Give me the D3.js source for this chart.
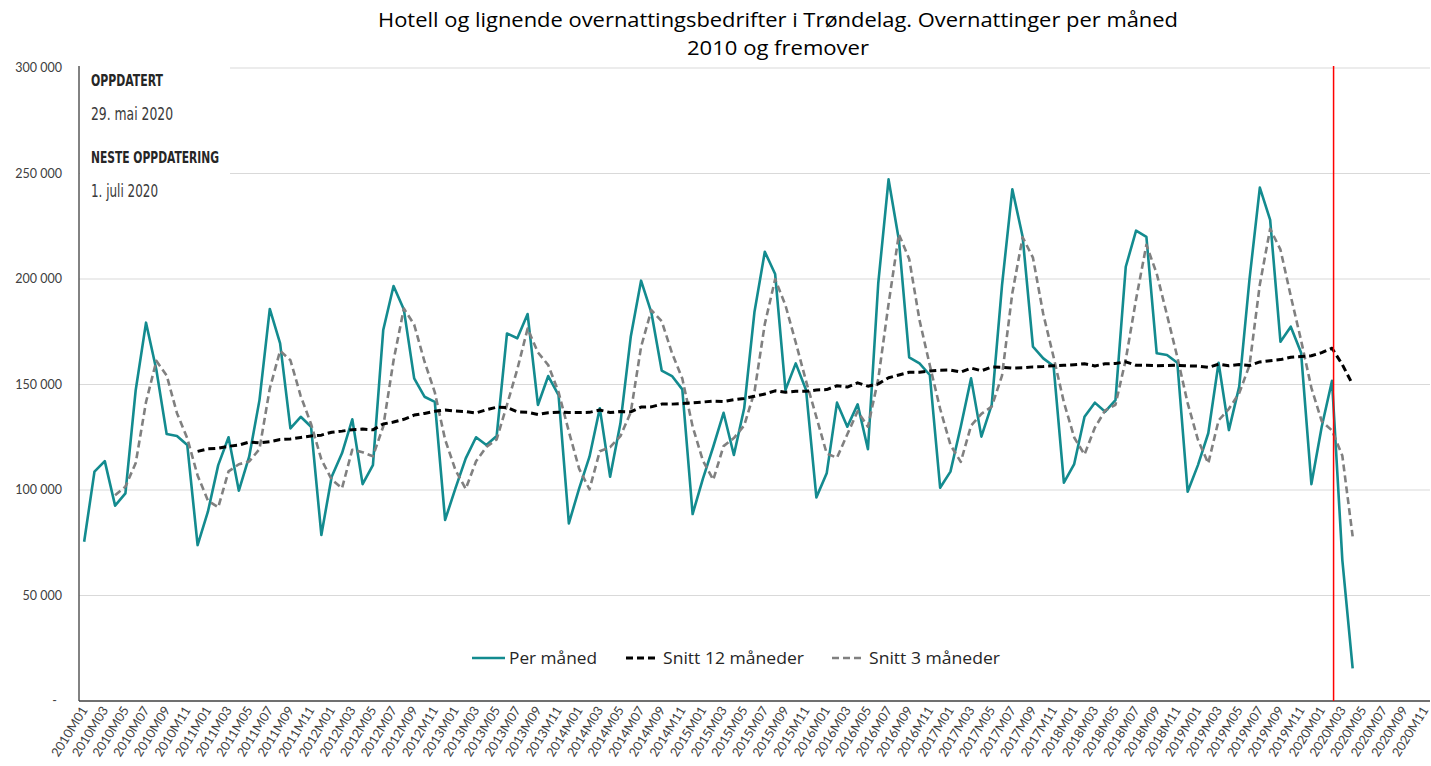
<!DOCTYPE html>
<html>
<head>
<meta charset="utf-8">
<script src="https://cdn.jsdelivr.net/npm/d3@7/dist/d3.min.js"></script>
<style>
  html, body { margin: 0; padding: 0; background: #fff; }
  svg { display: block; }
  .ui { font-family: Lato, "Open Sans", sans-serif; }
  .txt { font-family: "Open Sans", Lato, sans-serif; }
  .cond { font-family: "Liberation Sans Narrow", "DejaVu Sans Condensed", "Liberation Sans", sans-serif; }
</style>
</head>
<body>
<svg id="chart" width="1431" height="766"></svg>
<script>
// Overnattinger per måned, hotell og lignende i Trøndelag (2010M01 – 2020M04)
const perMaaned = [
  75500,108700,113700,92600,98400,147400,179300,157000,126500,125600,121300,73900,
  89700,111800,125000,99700,115800,142600,185800,169500,129200,134700,130000,78700,
  106300,117400,133500,102800,111800,175800,196700,185500,152900,144200,141800,85800,
  100800,115000,125000,121300,125600,174200,171900,183400,140300,154000,145000,84200,
  100800,115800,138700,106300,131600,172600,199200,184100,156600,154000,147700,88600,
  105400,120500,136600,116600,138700,184500,212900,202400,147400,160000,147400,96500,
  107900,141400,130000,140600,119300,198000,247200,218500,162900,160000,154500,101100,
  108700,130000,152900,125300,140300,197000,242500,220000,167900,162400,158800,103500,
  112300,134700,141400,137100,142600,205800,222900,220000,164800,164000,160300,99200,
  111800,126900,160300,128400,149000,200000,243300,228000,170300,177400,165000,102800,
  130000,151800,66800,15500
];
const perMaanedStart = "2010M01";

// Snitt 12 måneder, fra 2010M12
const snitt12 = [
  118300,
  119500,119800,120700,121300,122750,122350,122900,123900,124200,124900,125600,126000,
  127400,127900,128600,128900,128500,131300,132200,133500,135500,136300,137300,137900,
  137400,137200,136500,138050,139200,139100,137000,136800,135800,136600,136900,136700,
  136700,136800,137900,136700,137200,137050,139300,139400,140700,140700,141000,141300,
  141700,142100,141900,142800,143400,144400,145500,147000,146300,146800,146750,147400,
  147600,149400,148800,150800,149200,150300,153200,154500,155800,155800,156400,156800,
  156850,155900,157800,156500,158300,158200,157800,157900,158350,158550,158900,159100,
  159400,159800,158800,159800,160000,160750,159100,159100,158900,159000,159100,158800,
  158700,158100,159600,158900,159450,159000,160700,161300,161800,162900,163300,163600,
  165100,167200,159400,150000
];
const snitt12Start = "2010M12";

// Snitt 3 måneder, fra 2010M04
const snitt3 = [
  97500,101600,112800,141700,161200,154300,136400,124500,106900,
  95000,91800,108800,112200,113500,119400,148100,166000,161500,144500,131300,114500,
  105000,100800,119100,117900,116000,130100,161400,186000,178400,160900,146300,123900,
  109500,100500,113600,120400,124000,140400,157200,176500,165200,159200,146400,127700,
  110000,100300,118400,120300,125500,136800,167800,185300,180000,164900,152800,130100,
  113900,104800,120800,124600,130600,146600,178700,199900,187600,169900,151600,134600,
  117300,115300,126400,137300,130000,152600,188200,221200,209500,180500,159100,138500,
  121400,113300,130500,136100,139500,154200,193300,219800,210100,183400,163000,141600,
  124900,116800,129500,137700,140400,161800,190400,216200,202600,182900,163000,141200,
  123800,112600,133000,138500,145900,159100,197400,223800,213900,191900,170900,148400,
  132600,128200,116200,78000
];
const snitt3Start = "2010M04";

// Kategoriakse: 2010M01 – 2020M11
const years = d3.range(2010, 2021);
const monthCodes = ["01","02","03","04","05","06","07","08","09","10","11","12"];
const categories = [];
years.forEach(y => monthCodes.forEach(m => categories.push(`${y}M${m}`)));
categories.pop(); // aksen slutter på 2020M11

const yTicks = [0, 50000, 100000, 150000, 200000, 250000, 300000];
const markerMonth = "2020M02";

const titleLines = [
  { text: "Hotell og lignende overnattingsbedrifter i Trøndelag. Overnattinger per måned", width: 800 },
  { text: "2010 og fremover", width: 182 }
];
const infoLines = [
  { text: "OPPDATERT", bold: true, width: 72 },
  { text: "29. mai 2020", bold: false, width: 82 },
  { text: "NESTE OPPDATERING", bold: true, width: 128 },
  { text: "1. juli 2020", bold: false, width: 67 }
];

const series = [
  { name: "Per måned", values: perMaaned, start: perMaanedStart, color: "#138b8f", width: 2.6, dash: null, labelWidth: 88 },
  { name: "Snitt 12 måneder", values: snitt12, start: snitt12Start, color: "#000000", width: 3, dash: "7,4", labelWidth: 141 },
  { name: "Snitt 3 måneder", values: snitt3, start: snitt3Start, color: "#808080", width: 2.6, dash: "7,4", labelWidth: 131 }
];

// ---- layout ----
const svg = d3.select("#chart");
const plot = { left: 79, right: 1430, top: 68, bottom: 701 };

const x = d3.scaleBand().domain(categories).range([plot.left, plot.right]).padding(0);
const xc = c => x(c) + x.bandwidth() / 2;
const y = d3.scaleLinear().domain([0, 300000]).range([plot.bottom, plot.top]);

// gridlines
svg.append("g")
  .selectAll("line")
  .data(yTicks.filter(d => d > 0))
  .join("line")
  .attr("x1", plot.left).attr("x2", plot.right)
  .attr("y1", d => y(d)).attr("y2", d => y(d))
  .attr("stroke", "#d9d9d9").attr("stroke-width", 1.2);

// y tick labels
const fmt = d => d === 0 ? "-" : d3.format(",")(d).replace(/,/g, " ");
svg.append("g").attr("class", "ui")
  .selectAll("text")
  .data(yTicks)
  .join("text")
  .attr("x", d => d === 0 ? 57 : 62)
  .attr("y", d => y(d) + 4)
  .attr("text-anchor", "end")
  .attr("font-size", 12.5)
  .attr("fill", "#404040")
  .text(fmt);

// info box (covers gridlines)
svg.append("rect")
  .attr("x", plot.left + 1).attr("y", 60)
  .attr("width", 150).attr("height", 140)
  .attr("fill", "#fff");

const infoY = [86, 120, 163, 197];
svg.append("g").attr("class", "cond")
  .selectAll("text")
  .data(infoLines)
  .join("text")
  .attr("x", 91)
  .attr("y", (d, i) => infoY[i])
  .attr("font-size", d => d.bold ? 16 : 17)
  .attr("font-weight", d => d.bold ? 700 : 400)
  .attr("fill", d => d.bold ? "#262626" : "#3a3a3a")
  .attr("textLength", d => d.width)
  .attr("lengthAdjust", "spacingAndGlyphs")
  .text(d => d.text);

// axes lines
svg.append("line")
  .attr("x1", plot.left).attr("x2", plot.left)
  .attr("y1", plot.top - 2).attr("y2", plot.bottom)
  .attr("stroke", "#595959").attr("stroke-width", 1.5);
svg.append("line")
  .attr("x1", plot.left).attr("x2", plot.right)
  .attr("y1", plot.bottom).attr("y2", plot.bottom)
  .attr("stroke", "#404040").attr("stroke-width", 1.5);

// x tick labels (every second month)
svg.append("g").attr("class", "ui")
  .selectAll("text")
  .data(categories.filter((c, i) => i % 2 === 0))
  .join("text")
  .attr("transform", c => `translate(${xc(c) + 4},${plot.bottom + 9}) rotate(-58)`)
  .attr("text-anchor", "end")
  .attr("font-size", 12.8)
  .attr("fill", "#404040")
  .text(c => c);

// series lines
const line = d3.line()
  .x(d => xc(d.c))
  .y(d => y(d.v));

series.forEach(s => {
  const i0 = categories.indexOf(s.start);
  s.pts = s.values.map((v, i) => ({ c: categories[i0 + i], v }));
});

// draw order: per måned, then 3-month, then 12-month on top
[series[0], series[2], series[1]].forEach(s => {
  svg.append("path")
    .datum(s.pts)
    .attr("d", line)
    .attr("fill", "none")
    .attr("stroke", s.color)
    .attr("stroke-width", s.width)
    .attr("stroke-linejoin", "round")
    .attr("stroke-dasharray", s.dash);
});

// red marker line
const mx = xc(markerMonth) + x.bandwidth() * 0.15;
svg.append("line")
  .attr("x1", mx).attr("x2", mx)
  .attr("y1", plot.top - 2).attr("y2", plot.bottom)
  .attr("stroke", "#ff0000").attr("stroke-width", 1.5);

// legend
const legendItems = [
  { s: series[0], x: 472 },
  { s: series[1], x: 626 },
  { s: series[2], x: 832 }
];
const lg = svg.append("g").attr("class", "txt");
legendItems.forEach(it => {
  lg.append("line")
    .attr("x1", it.x).attr("x2", it.x + 33)
    .attr("y1", 658).attr("y2", 658)
    .attr("stroke", it.s.color)
    .attr("stroke-width", it.s.width)
    .attr("stroke-dasharray", it.s.dash);
  lg.append("text")
    .attr("x", it.x + 37).attr("y", 664)
    .attr("font-size", 16.5)
    .attr("fill", "#262626")
    .attr("textLength", it.s.labelWidth)
    .attr("lengthAdjust", "spacingAndGlyphs")
    .text(it.s.name);
});

// title
svg.append("g").attr("class", "txt")
  .selectAll("text")
  .data(titleLines)
  .join("text")
  .attr("x", 778)
  .attr("y", (d, i) => 27 + i * 28)
  .attr("text-anchor", "middle")
  .attr("font-size", 20)
  .attr("fill", "#000")
  .attr("textLength", d => d.width)
  .attr("lengthAdjust", "spacingAndGlyphs")
  .text(d => d.text);
</script>
</body>
</html>
